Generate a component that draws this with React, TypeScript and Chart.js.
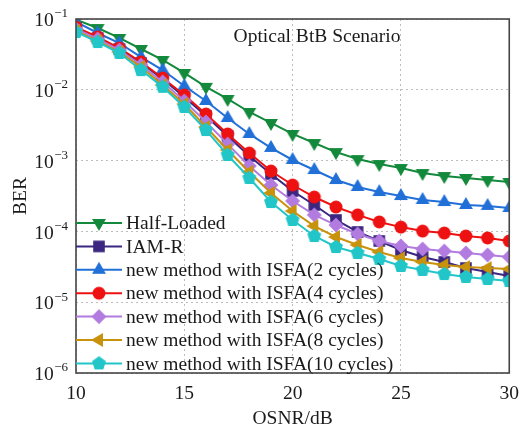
import React, { useEffect, useRef } from 'react';
import { Chart, registerables } from 'chart.js';

Chart.register(...registerables);

// ---- data ----
const osnr = [10, 11, 12, 13, 14, 15, 16, 17, 18, 19, 20, 21, 22, 23, 24, 25, 26, 27, 28, 29, 30];
const halfLoaded = [0.098, 0.0746, 0.054, 0.0377, 0.0264, 0.0173, 0.011, 0.00742, 0.00486, 0.0034, 0.00238, 0.00177, 0.00132, 0.00105, 0.000895, 0.000786, 0.000668, 0.000606, 0.000568, 0.000532, 0.000499];
const iamR = [0.0746, 0.054, 0.0377, 0.0239, 0.0142, 0.00791, 0.00427, 0.00222, 0.00116, 0.000647, 0.000372, 0.000236, 0.000145, 0.0000982, 0.0000732, 0.0000546, 0.0000435, 0.000037, 0.0000304, 0.0000267, 0.0000234];
const isfa2 = [0.0907, 0.0634, 0.0458, 0.029, 0.019, 0.0113, 0.00695, 0.004, 0.00238, 0.00151, 0.00102, 0.000736, 0.000532, 0.000424, 0.00036, 0.000316, 0.000278, 0.00026, 0.000236, 0.000229, 0.000214];
const isfa4 = [0.077, 0.0557, 0.0389, 0.0247, 0.0147, 0.00845, 0.00455, 0.00238, 0.00128, 0.000713, 0.000452, 0.000306, 0.000221, 0.000171, 0.000136, 0.000115, 0.000101, 0.0000949, 0.0000861, 0.0000807, 0.0000732];
const isfa6 = [0.0723, 0.0522, 0.0365, 0.0224, 0.0129, 0.00695, 0.00351, 0.00171, 0.000839, 0.000452, 0.000269, 0.000171, 0.000123, 0.0000919, 0.0000732, 0.0000622, 0.0000564, 0.0000528, 0.0000496, 0.0000465, 0.0000435];
const isfa8 = [0.0678, 0.0489, 0.0342, 0.021, 0.0117, 0.0063, 0.00298, 0.00141, 0.00069, 0.000348, 0.000194, 0.000119, 0.0000834, 0.0000643, 0.0000512, 0.0000421, 0.000037, 0.0000335, 0.0000314, 0.0000304, 0.0000294];
const isfa10 = [0.0655, 0.0473, 0.0331, 0.019, 0.011, 0.00572, 0.0027, 0.0012, 0.000568, 0.00026, 0.000145, 0.0000861, 0.0000602, 0.0000496, 0.0000408, 0.0000325, 0.0000285, 0.000025, 0.0000227, 0.0000213, 0.0000199];

const seriesLabels = [
  'Half-Loaded',
  'IAM-R',
  'new method with ISFA(2 cycles)',
  'new method with ISFA(4 cycles)',
  'new method with ISFA(6 cycles)',
  'new method with ISFA(8 cycles)',
  'new method with ISFA(10 cycles)',
];
const yTickExponents = [-1, -2, -3, -4, -5, -6];
const xTitle = 'OSNR/dB';
const yTitle = 'BER';
const plotTitle = 'Optical BtB Scenario';

// ---- styles ----
const colors = ['#13893b', '#3b2680', '#2070d8', '#ee1111', '#b27be0', '#c9920c', '#22c6c8'];
const shapes = ['triDown', 'square', 'triUp', 'circle', 'diamond', 'triLeft', 'pentagon'];
const FONT = '"Liberation Serif", "Times New Roman", serif';
const TEXT = '#1a1a1a';

function makeMarker(shape: string, color: string): HTMLCanvasElement {
  const S = 18;
  const c = document.createElement('canvas');
  c.width = S;
  c.height = S;
  const g = c.getContext('2d')!;
  const m = S / 2;
  g.fillStyle = color;
  g.beginPath();
  const poly = (n: number, r: number, rot: number) => {
    for (let i = 0; i < n; i++) {
      const a = rot + (i * 2 * Math.PI) / n;
      const x = m + r * Math.cos(a);
      const y = m + r * Math.sin(a);
      if (i === 0) g.moveTo(x, y);
      else g.lineTo(x, y);
    }
    g.closePath();
  };
  if (shape === 'triDown') poly(3, 8, Math.PI / 2);
  else if (shape === 'triUp') poly(3, 8, -Math.PI / 2);
  else if (shape === 'triLeft') poly(3, 8, Math.PI);
  else if (shape === 'square') g.rect(m - 5.8, m - 5.8, 11.6, 11.6);
  else if (shape === 'circle') g.arc(m, m, 6.5, 0, Math.PI * 2);
  else if (shape === 'diamond') poly(4, 7.5, -Math.PI / 2);
  else if (shape === 'pentagon') poly(5, 7.3, -Math.PI / 2);
  g.fill();
  return c;
}

const decorations = {
  id: 'decorations',
  afterDraw(chart: any) {
    const { ctx, chartArea: a, scales } = chart;
    const ys = scales.y;
    ctx.save();
    // frame
    ctx.strokeStyle = '#454545';
    ctx.lineWidth = 1.6;
    ctx.strokeRect(a.left, a.top, a.right - a.left, a.bottom - a.top);

    // y tick labels 10^e
    ctx.fillStyle = TEXT;
    ctx.textBaseline = 'middle';
    ctx.textAlign = 'right';
    for (const e of yTickExponents) {
      const y = ys.getPixelForValue(Math.pow(10, e));
      const expStr = '\u2212' + Math.abs(e);
      ctx.font = `13px ${FONT}`;
      const ew = ctx.measureText(expStr).width;
      const right = a.left - 8;
      ctx.fillText(expStr, right, y - 5);
      ctx.font = `19.5px ${FONT}`;
      ctx.fillText('10', right - ew - 0.5, y + 2);
    }

    // axis titles
    ctx.font = `19.5px ${FONT}`;
    ctx.textAlign = 'center';
    ctx.fillText(xTitle, (a.left + a.right) / 2, 419);
    ctx.save();
    ctx.translate(21, (a.top + a.bottom) / 2);
    ctx.rotate(-Math.PI / 2);
    ctx.fillText(yTitle, 0, 0);
    ctx.restore();

    // in-plot title
    ctx.font = `19.5px ${FONT}`;
    ctx.fillText(plotTitle, 317, 37);

    // legend
    const rowY0 = 223;
    const rowStep = 23.4;
    const items = [...chart.data.datasets].sort((p: any, q: any) => p.legendIndex - q.legendIndex);
    items.forEach((ds: any, i: number) => {
      const y = rowY0 + i * rowStep;
      ctx.strokeStyle = ds.borderColor;
      ctx.lineWidth = 2;
      ctx.beginPath();
      ctx.moveTo(a.left, y);
      ctx.lineTo(a.left + 46, y);
      ctx.stroke();
      const img = ds.pointStyle as HTMLCanvasElement;
      ctx.drawImage(img, a.left + 23 - img.width / 2, y - img.height / 2);
      ctx.fillStyle = TEXT;
      ctx.textAlign = 'left';
      ctx.font = `19.5px ${FONT}`;
      ctx.fillText(ds.label, a.left + 50, y + 1);
    });
    ctx.restore();
  },
};

export default function App() {
  const ref = useRef<HTMLCanvasElement>(null);
  useEffect(() => {
    const series = [halfLoaded, iamR, isfa2, isfa4, isfa6, isfa8, isfa10];
    const datasets = series.map((vals, i) => ({
      label: seriesLabels[i],
      legendIndex: i,
      order: series.length - i,
      data: vals.map((v, j) => ({ x: osnr[j], y: v })),
      borderColor: colors[i],
      backgroundColor: colors[i],
      borderWidth: 2,
      pointStyle: makeMarker(shapes[i], colors[i]),
      pointRadius: 7,
      tension: 0,
    }));
    const chart = new Chart(ref.current!, {
      type: 'line',
      data: { datasets },
      options: {
        animation: false,
        responsive: false,
        devicePixelRatio: 1,
        layout: { padding: { top: 19, right: 9, left: 0, bottom: 0 } },
        plugins: { legend: { display: false }, tooltip: { enabled: false }, title: { display: false } },
        scales: {
          x: {
            type: 'linear',
            min: 10,
            max: 30,
            afterFit: (s: any) => {
              s.height = 57;
            },
            ticks: { stepSize: 5, font: { family: FONT, size: 19.5 }, color: TEXT, padding: 9, maxRotation: 0 },
            grid: { color: '#bdbdbd', lineWidth: 1, drawTicks: false },
            border: { display: false, dash: [2, 3] },
          },
          y: {
            type: 'logarithmic',
            min: 1e-6,
            max: 1e-1,
            afterFit: (s: any) => {
              s.width = 76;
            },
            afterBuildTicks: (s: any) => {
              s.ticks = yTickExponents.map((e) => ({ value: Math.pow(10, e) }));
            },
            ticks: { display: false },
            grid: { color: '#bdbdbd', lineWidth: 1, drawTicks: false },
            border: { display: false, dash: [2, 3] },
          },
        },
      },
      plugins: [decorations],
    });
    return () => chart.destroy();
  }, []);
  return (
    <div style={{ position: 'absolute', left: 0, top: 0, width: 528, height: 430, background: '#fff' }}>
      <canvas ref={ref} width={528} height={430} style={{ display: 'block' }} />
    </div>
  );
}
